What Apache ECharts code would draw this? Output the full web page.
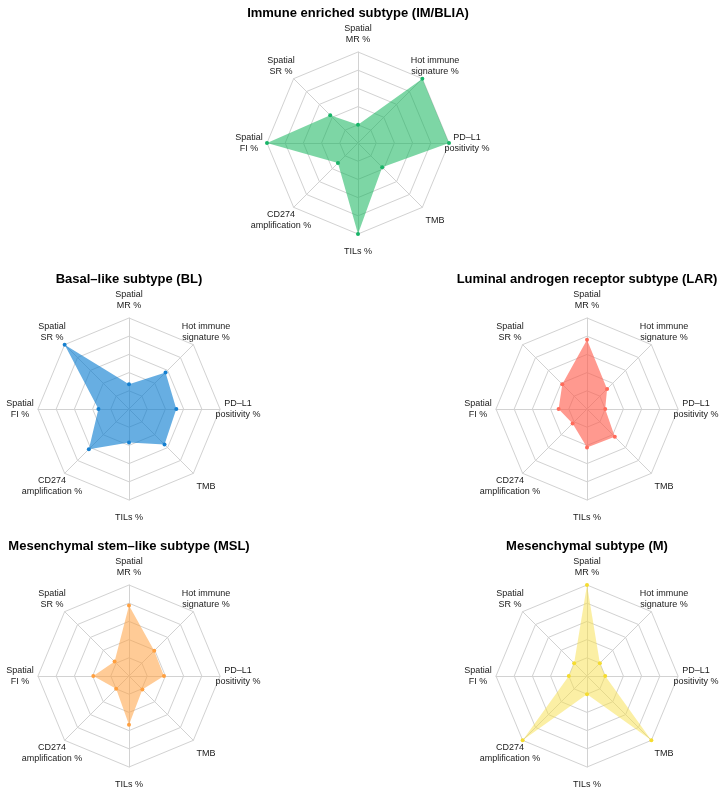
<!DOCTYPE html>
<html>
<head>
<meta charset="utf-8">
<script src="https://cdn.jsdelivr.net/npm/echarts@6/dist/echarts.min.js"></script>
<style>
html,body{margin:0;padding:0;background:#fff;}
#chart{width:726px;height:795px;}
</style>
</head>
<body>
<div id="chart"></div>
<script>
// Axis names (counter-clockwise from top)
const axisNames = [
  'Spatial\nMR %',
  'Spatial\nSR %',
  'Spatial\nFI %',
  'CD274\namplification %',
  'TILs %',
  'TMB',
  'PD\u2013L1\npositivity %',
  'Hot immune\nsignature %'
];
const subtypeTitles = [
  'Immune enriched subtype (IM/BLIA)',
  'Basal\u2013like subtype (BL)',
  'Luminal androgen receptor subtype (LAR)',
  'Mesenchymal stem\u2013like subtype (MSL)',
  'Mesenchymal subtype (M)'
];
// normalized values (0 = min across subtypes, 1 = max), same order as axisNames
const valuesIM  = [0.00, 0.29, 1.00, 0.14, 1.00, 0.22, 1.00, 1.00];
const valuesBL  = [0.09, 1.00, 0.17, 0.53, 0.21, 0.44, 0.40, 0.46];
const valuesLAR = [0.70, 0.23, 0.14, 0.03, 0.28, 0.29, 0.00, 0.14];
const valuesMSL = [0.72, 0.03, 0.24, 0.00, 0.42, 0.01, 0.23, 0.24];
const valuesM   = [1.00, 0.00, 0.00, 1.00, 0.00, 1.00, 0.00, 0.00];

const allValues = [valuesIM, valuesBL, valuesLAR, valuesMSL, valuesM];
const pointColors = ['#19B468', '#1680D0', '#FF6B5B', '#FFA040', '#F5DC30'];
const fillColors = ['rgba(18,180,91,0.55)', 'rgba(9,125,209,0.62)', 'rgba(255,90,75,0.62)', 'rgba(255,160,64,0.55)', 'rgba(248,224,74,0.5)'];
const centers = [[358, 143], [129, 409], [587, 409], [129, 676], [587, 676]];
const R = 91;

const chart = echarts.init(document.getElementById('chart'), null, {renderer: 'canvas'});
const font = '"Liberation Sans", Arial, Helvetica, sans-serif';

const radars = centers.map(c => ({
  center: c,
  radius: R,
  shape: 'polygon',
  splitNumber: 5,
  startAngle: 90,
  indicator: axisNames.map(n => ({name: n, min: -0.25, max: 1})),
  nameGap: Math.round(R * 0.2),
  axisName: {
    color: '#1a1a1a',
    fontSize: 9,
    lineHeight: 11,
    fontFamily: font,
    align: 'center',
    verticalAlign: 'middle'
  },
  splitLine: {lineStyle: {color: '#d2d2d2', width: 1}},
  splitArea: {show: false},
  axisLine: {lineStyle: {color: '#d2d2d2', width: 1}},
  axisTick: {show: false},
  axisLabel: {show: false}
}));

const series = allValues.map((vals, i) => ({
  type: 'radar',
  radarIndex: i,
  symbol: 'circle',
  symbolSize: 4,
  silent: true,
  lineStyle: {width: 0, opacity: 0},
  itemStyle: {color: pointColors[i]},
  areaStyle: {color: fillColors[i], opacity: 1},
  data: [{value: vals, name: subtypeTitles[i]}]
}));

const titles = subtypeTitles.map((t, i) => ({
  text: t,
  left: centers[i][0],
  top: centers[i][1] - 136,
  textAlign: 'center',
  padding: 0,
  textStyle: {fontSize: 13, fontWeight: 'bold', color: '#000', fontFamily: font}
}));

chart.setOption({
  animation: false,
  backgroundColor: '#fff',
  title: titles,
  radar: radars,
  series: series
});
</script>
</body>
</html>
